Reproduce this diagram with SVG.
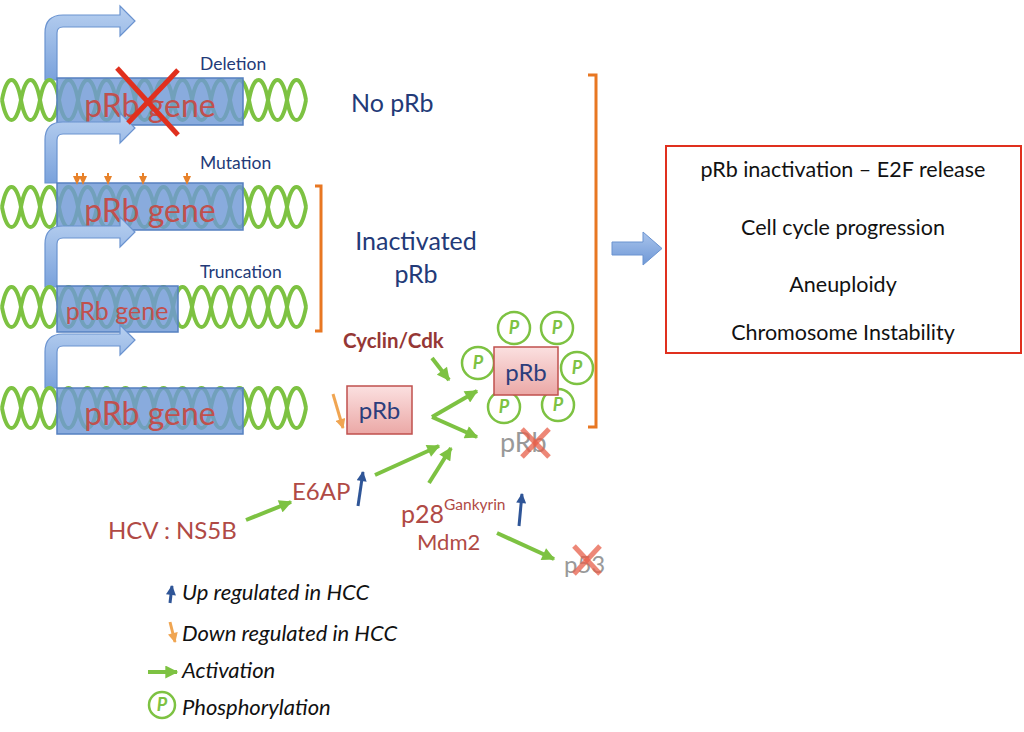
<svg xmlns="http://www.w3.org/2000/svg" width="1024" height="732" viewBox="0 0 1024 732">
<defs>
<style>
.helix{fill:none;stroke:#7dc242;stroke-width:4}
.gbox{fill:#6f98d6;fill-opacity:0.82;stroke:#5580c0;stroke-width:1.5}
.bend{fill:url(#bg);stroke:#6a93d0;stroke-width:1.2}
.gtxt{font-family:Lato,"Open Sans",sans-serif;fill:#c0504d;text-anchor:middle}
.lbl{font-family:Lato,"Open Sans",sans-serif;fill:#233a78}
.prot{font-family:Lato,"Open Sans",sans-serif;fill:#b04a45}
.blk{font-family:Lato,"Open Sans",sans-serif;fill:#111;font-size:21.5px;text-anchor:middle}
.leg{font-family:Lato,"Open Sans",sans-serif;fill:#111;font-size:22px;font-style:italic}
.green{stroke:#7dc242;stroke-width:4;fill:none;marker-end:url(#ga)}
.blue{stroke:#2f5597;stroke-width:3;fill:none;marker-end:url(#ba)}
.orng{stroke:#f0a552;stroke-width:3;fill:none;marker-end:url(#oa)}
.pc{fill:#fff;stroke:#7dc242;stroke-width:2.5}
.pt{font-family:Lato,"Open Sans",sans-serif;font-weight:bold;font-style:italic;fill:#7dc242;font-size:18px;text-anchor:middle}
.pbox{fill:url(#pg);stroke:#c0504d;stroke-width:1.5}
.ptx{font-family:Lato,"Open Sans",sans-serif;fill:#2c3e7c;font-size:24px;text-anchor:middle}
.rx{stroke:#e0301e;stroke-width:5;stroke-linecap:butt}
.rx2{stroke:#e8604a;stroke-width:5;opacity:0.75}
.brk{fill:none;stroke:#e87722;stroke-width:3}
.mut{fill:#e8822a}
</style>
<linearGradient id="bg" x1="0" y1="0" x2="0" y2="1">
<stop offset="0" stop-color="#b8d0f0"/>
<stop offset="1" stop-color="#7aa2dc"/>
</linearGradient>
<linearGradient id="pg" x1="0" y1="0" x2="0" y2="1">
<stop offset="0" stop-color="#fbe0e0"/>
<stop offset="1" stop-color="#eba8a6"/>
</linearGradient>
<linearGradient id="rg" x1="0" y1="0" x2="0" y2="1">
<stop offset="0" stop-color="#a9c4ec"/>
<stop offset="1" stop-color="#6f98d6"/>
</linearGradient>
<marker id="ga" viewBox="0 0 10 10" refX="9" refY="5" orient="auto" markerUnits="userSpaceOnUse" markerWidth="14" markerHeight="13"><path d="M0,0 L10,5 L0,10 z" fill="#7dc242"/></marker>
<marker id="ba" viewBox="0 0 10 10" refX="9" refY="5" orient="auto" markerUnits="userSpaceOnUse" markerWidth="11" markerHeight="10"><path d="M0,0 L10,5 L0,10 z" fill="#2f5597"/></marker>
<marker id="oa" viewBox="0 0 10 10" refX="9" refY="5" orient="auto" markerUnits="userSpaceOnUse" markerWidth="11" markerHeight="10"><path d="M0,0 L10,5 L0,10 z" fill="#f0a552"/></marker>
<g id="helix">
<path class="helix" d="M2,0 c4.75,-26.7 14.25,-26.7 19,0 c4.75,26.7 14.25,26.7 19,0 c4.75,-26.7 14.25,-26.7 19,0 c4.75,26.7 14.25,26.7 19,0 c4.75,-26.7 14.25,-26.7 19,0 c4.75,26.7 14.25,26.7 19,0 c4.75,-26.7 14.25,-26.7 19,0 c4.75,26.7 14.25,26.7 19,0 c4.75,-26.7 14.25,-26.7 19,0 c4.75,26.7 14.25,26.7 19,0 c4.75,-26.7 14.25,-26.7 19,0 c4.75,26.7 14.25,26.7 19,0 c4.75,-26.7 14.25,-26.7 19,0 c4.75,26.7 14.25,26.7 19,0 c4.75,-26.7 14.25,-26.7 19,0 c4.75,26.7 14.25,26.7 19,0"/>
<path class="helix" d="M2,0 c4.75,26.7 14.25,26.7 19,0 c4.75,-26.7 14.25,-26.7 19,0 c4.75,26.7 14.25,26.7 19,0 c4.75,-26.7 14.25,-26.7 19,0 c4.75,26.7 14.25,26.7 19,0 c4.75,-26.7 14.25,-26.7 19,0 c4.75,26.7 14.25,26.7 19,0 c4.75,-26.7 14.25,-26.7 19,0 c4.75,26.7 14.25,26.7 19,0 c4.75,-26.7 14.25,-26.7 19,0 c4.75,26.7 14.25,26.7 19,0 c4.75,-26.7 14.25,-26.7 19,0 c4.75,26.7 14.25,26.7 19,0 c4.75,-26.7 14.25,-26.7 19,0 c4.75,26.7 14.25,26.7 19,0 c4.75,-26.7 14.25,-26.7 19,0"/>
</g>
</defs>
<rect width="1024" height="732" fill="#fff"/>

<g id="gene-deletion">
<path class="bend" d="M45,80 V33 Q45,15 63,15 H120 V6 L135,21 L120,36 V27 H63 Q57,27 57,33 V80 Z"/>
<use href="#helix" transform="translate(0,100)"/>
<rect class="gbox" x="57" y="78" width="186" height="47"/>
<text class="gtxt" x="150" y="117" font-size="32">pRb gene</text>
<text class="lbl" x="200" y="70" font-size="17.5">Deletion</text>
</g>

<g id="gene-mutation">
<path class="bend" d="M45,183 V140 Q45,122 63,122 H120 V113 L135,128 L120,143 V134 H63 Q57,134 57,140 V183 Z"/>
<use href="#helix" transform="translate(0,207)"/>
<rect class="gbox" x="57" y="183" width="186" height="47"/>
<text class="gtxt" x="150" y="222" font-size="32">pRb gene</text>
<text class="lbl" x="200" y="169" font-size="17.5">Mutation</text>
<g class="mut">
<rect x="76" y="173" width="2" height="4"/><polygon points="73,176 81,176 77,185"/>
<rect x="82" y="173" width="2" height="4"/><polygon points="79,176 87,176 83,185"/>
<rect x="107" y="173" width="2" height="4"/><polygon points="104,176 112,176 108,185"/>
<rect x="142" y="173" width="2" height="4"/><polygon points="139,176 147,176 143,185"/>
<rect x="186" y="173" width="2" height="4"/><polygon points="183,176 191,176 187,185"/>
</g>
</g>

<g id="gene-truncation">
<path class="bend" d="M45,287 V244 Q45,226 63,226 H120 V217 L135,232 L120,247 V238 H63 Q57,238 57,244 V287 Z"/>
<use href="#helix" transform="translate(0,307)"/>
<rect class="gbox" x="57" y="286" width="121" height="46"/>
<text class="gtxt" x="117" y="320" font-size="25">pRb gene</text>
<text class="lbl" x="200" y="278" font-size="17.5">Truncation</text>
</g>

<g id="gene-normal">
<path class="bend" d="M45,388 V352 Q45,334 63,334 H120 V325 L135,340 L120,355 V346 H63 Q57,346 57,352 V388 Z"/>
<use href="#helix" transform="translate(0,408)"/>
<rect class="gbox" x="57" y="388" width="186" height="46"/>
<text class="gtxt" x="150" y="425" font-size="32">pRb gene</text>
</g>

<g id="deletion-x">
<line class="rx" x1="117" y1="68" x2="178" y2="135"/>
<line class="rx" x1="178" y1="70" x2="128" y2="123"/>
</g>

<g id="label-no-prb"><text class="lbl" x="351" y="112" font-size="25">No pRb</text></g>
<g id="label-inactivated">
<text class="lbl" x="416" y="250" font-size="25" text-anchor="middle">Inactivated</text>
<text class="lbl" x="416" y="283" font-size="25" text-anchor="middle">pRb</text>
</g>
<g id="bracket-small"><path class="brk" d="M315,186 H321 V331 H315"/></g>
<g id="bracket-large"><path class="brk" d="M588,75 H596 V427 H588"/></g>

<g id="block-arrow"><polygon points="612,242 643,242 643,232 662,248.5 643,265 643,255 612,255" fill="url(#rg)" stroke="#6a93d0" stroke-width="1"/></g>

<g id="outcome-box">
<rect x="666" y="146" width="355" height="207" fill="#fff" stroke="#e0301e" stroke-width="2"/>
<text class="blk" x="843" y="177">pRb inactivation – E2F release</text>
<text class="blk" x="843" y="235">Cell cycle progression</text>
<text class="blk" x="843" y="292">Aneuploidy</text>
<text class="blk" x="843" y="340">Chromosome Instability</text>
</g>

<g id="prb">
<rect class="pbox" x="347" y="386" width="65" height="48"/>
<text class="ptx" x="379.5" y="419">pRb</text>
</g>

<g id="prb-phospho">
<circle class="pc" cx="514" cy="328" r="16"/><text class="pt" x="514" y="334">P</text>
<circle class="pc" cx="557" cy="328" r="16"/><text class="pt" x="557" y="334">P</text>
<circle class="pc" cx="478" cy="363" r="16"/><text class="pt" x="478" y="369">P</text>
<circle class="pc" cx="577" cy="368" r="16"/><text class="pt" x="577" y="374">P</text>
<circle class="pc" cx="504" cy="407" r="16"/><text class="pt" x="504" y="413">P</text>
<circle class="pc" cx="558" cy="405" r="16"/><text class="pt" x="558" y="411">P</text>
<rect class="pbox" x="494" y="347" width="64" height="48"/>
<text class="ptx" x="526" y="381">pRb</text>
</g>

<g id="cyclin"><text x="343" y="348" font-family="Lato,'Open Sans',sans-serif" font-weight="bold" font-size="20.5" fill="#953735">Cyclin/Cdk</text></g>

<g id="prb-degraded">
<text x="500" y="452" font-family="Lato,'Open Sans',sans-serif" font-size="27" fill="#999">pRb</text>
<line class="rx2" x1="522" y1="429" x2="549" y2="457"/>
<line class="rx2" x1="549" y1="429" x2="522" y2="457"/>
</g>

<g id="hcv"><text class="prot" x="108" y="539" font-size="24">HCV : NS5B</text></g>
<g id="e6ap"><text class="prot" x="292" y="500" font-size="24">E6AP</text></g>
<g id="p28"><text class="prot" x="401" y="523" font-size="25">p28<tspan font-size="15.5" dy="-13">Gankyrin</tspan></text></g>
<g id="mdm2"><text class="prot" x="417" y="550" font-size="22">Mdm2</text></g>
<g id="p53">
<text x="564" y="573" font-family="Lato,'Open Sans',sans-serif" font-size="24" fill="#999">p53</text>
<line class="rx2" x1="574" y1="546" x2="600" y2="574"/>
<line class="rx2" x1="600" y1="546" x2="574" y2="574"/>
</g>

<g id="connectors">
<line class="green" x1="432" y1="358" x2="449" y2="380"/>
<line class="green" x1="432" y1="417" x2="477" y2="391"/>
<line class="green" x1="432" y1="417" x2="477" y2="437"/>
<line class="green" x1="375" y1="475" x2="439" y2="446"/>
<line class="green" x1="429" y1="483" x2="451" y2="448"/>
<line class="green" x1="246" y1="520" x2="291" y2="502"/>
<line class="green" x1="497" y1="533" x2="554" y2="559"/>
<line class="blue" x1="358" y1="506" x2="363" y2="472"/>
<line class="blue" x1="519" y1="526" x2="522" y2="494"/>
<line class="orng" x1="333" y1="394" x2="343" y2="428"/>
</g>

<g id="legend">
<line class="blue" x1="170" y1="603" x2="172" y2="586"/>
<text class="leg" x="182" y="600">Up regulated in HCC</text>
<line class="orng" x1="170" y1="622" x2="175" y2="642"/>
<text class="leg" x="182" y="641">Down regulated in HCC</text>
<line class="green" x1="148" y1="672" x2="177" y2="672"/>
<text class="leg" x="182" y="678">Activation</text>
<circle class="pc" cx="162" cy="705" r="13"/>
<text class="pt" x="162" y="711" font-size="16">P</text>
<text class="leg" x="182" y="715">Phosphorylation</text>
</g>
</svg>
